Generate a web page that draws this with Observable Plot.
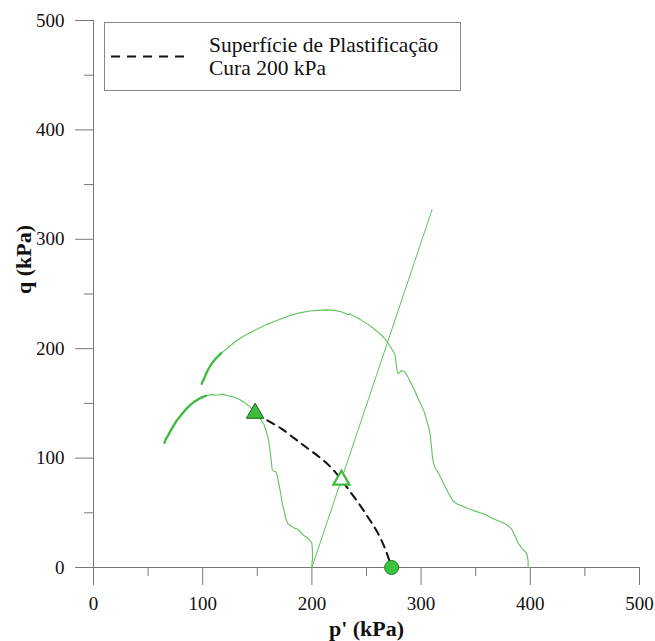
<!DOCTYPE html>
<html>
<head>
<meta charset="utf-8">
<script src="https://cdn.jsdelivr.net/npm/d3@7"></script>
<script src="https://cdn.jsdelivr.net/npm/@observablehq/plot@0.6"></script>
<style>
  body { margin: 0; background: #fff; }
  #wrap { position: relative; width: 655px; height: 641px; font-family: 'Liberation Serif', 'Times New Roman', serif; }
  #legend { position: absolute; left: 0; top: 0; }
</style>
</head>
<body>
<div id="wrap"></div>
<script>
// --- data ---
const xMajor = [0, 100, 200, 300, 400, 500];
const xMinor = [50, 150, 250, 350, 450];
const yMajor = [0, 100, 200, 300, 400, 500];
const yMinor = [50, 150, 250, 350, 450];
const xTitle = "p' (kPa)";
const yTitle = "q (kPa)";
const legendLines = ["Superfície de Plastificação", "Cura 200 kPa"];

// Lower effective stress path
const lowerP = [65,66,68,70,73,76,80,84,88,93,98,103,108,113,118,123,128,133,138,143,148,152,156,158,160,161,162,163,163.5,165,167,168,169,170,171,172,173,175,176,178,181,184,187,190,193,196,198,200,200.5,200.5,200,200];
const lowerQ = [114,117,120,124,129,134,139,144,148,152,155,157,158,157.5,158.5,157,156,154,151,147,141,137,131,125,118,112,104,96,90,88,87.5,85,80,75,70,64,58,50,45,40,38,36,35,32,29,27,25,22,15,8,3,0];
// thick initial part of lower path
const lowerStartP = [65,66,68,70,73,76,80,84,88,93,98,103];
const lowerStartQ = [114,117,120,124,129,134,139,144,148,152,155,157];

// Upper effective stress path
const upperP = [99,100,101,103,105,108,112,117,122,128,135,142,150,158,166,174,182,190,198,206,214,220,226,230,233,235,238,242,247,252,257,262,266,270,273,276,277,278,279,282,285,288,291,294,297,300,303,305,307,308.5,309.5,310.5,311.5,313,316,319,322,325,329,333,338,343,348,354,360,365,370,375,380,383,386,389,392,395,397,398,398];
const upperQ = [168,170,172,177,181,186,191,196,200,205,210,214,218,222,225,228,231,233,234.5,235,235.5,235,234,232.5,231,232,230,228,225,222,218,214,210,205,200,195,188,180,177,180,179,174,168,162,155,149,142,135,128,120,110,100,95,91,86,80,74,68,61,58,56,54,52,50,48,45,43,41,38,35,29,22,18,15,12,6,0];
const upperStartP = [99,100,101,103,105,108,112,117];
const upperStartQ = [168,170,172,177,181,186,191,196];

// Total stress path
const totalP = [200, 310];
const totalQ = [0, 327];

// Yield surface (Superfície de Plastificação - Cura 200 kPa)
const yieldP = [148,160,172,184,196,208,218,227,236,244,252,259,265,269,273];
const yieldQ = [141,134,127,118,109,100,91,80,68,57,45,34,22,12,0];

// Yield points
const yieldFilledTri = {p: 148, q: 141};
const yieldOpenTri = {p: 227, q: 80};
const yieldCircle = {p: 273, q: 0};

const zip = (P, Q) => P.map((p, i) => ({p, q: Q[i]}));

const green = "#5cc45c";
const greenDark = "#3fb83f";
const axisColor = "#777";

const chart = Plot.plot({
  width: 655,
  height: 641,
  marginLeft: 93,
  marginRight: 16,
  marginTop: 20,
  marginBottom: 74,
  x: {domain: [0, 500]},
  y: {domain: [0, 500]},
  style: {fontFamily: "'Liberation Serif', 'Times New Roman', serif", fontSize: "19px", color: "#111", background: "transparent"},
  marks: [
    Plot.ruleY([0], {stroke: axisColor}),
    Plot.ruleX([0], {stroke: axisColor}),
    Plot.axisX(xMajor, {tickSize: 18, tickPadding: 11, stroke: axisColor, label: null, fontSize: 19}),
    Plot.axisX(xMinor, {tickSize: 9, tickFormat: () => "", stroke: axisColor, label: null}),
    Plot.axisY(yMajor, {tickSize: 18, tickPadding: 11, stroke: axisColor, label: null, fontSize: 19}),
    Plot.axisY(yMinor, {tickSize: 9, tickFormat: () => "", stroke: axisColor, label: null}),
    Plot.text([xTitle], {frameAnchor: "bottom", dy: 61, fontWeight: "bold", fontSize: 22, lineAnchor: "middle"}),
    Plot.text([yTitle], {frameAnchor: "left", dx: -70, rotate: -90, fontWeight: "bold", fontSize: 22}),
    Plot.line(zip(totalP, totalQ), {x: "p", y: "q", stroke: green, strokeWidth: 1}),
    Plot.line(zip(lowerP, lowerQ), {x: "p", y: "q", stroke: green, strokeWidth: 1.1}),
    Plot.line(zip(lowerStartP, lowerStartQ), {x: "p", y: "q", stroke: greenDark, strokeWidth: 2.3}),
    Plot.line(zip(upperP, upperQ), {x: "p", y: "q", stroke: green, strokeWidth: 1.1}),
    Plot.line(zip(upperStartP, upperStartQ), {x: "p", y: "q", stroke: greenDark, strokeWidth: 2.3}),
    Plot.line(zip(yieldP, yieldQ), {x: "p", y: "q", stroke: "#111", strokeWidth: 2, strokeDasharray: "8,6", curve: "catmull-rom"}),
    Plot.dot([yieldFilledTri], {x: "p", y: "q", symbol: "triangle", r: 6.5, fill: "#3cbd3c", stroke: "#1f5f1f", strokeWidth: 1}),
    Plot.dot([yieldOpenTri], {x: "p", y: "q", symbol: "triangle", r: 6, fill: "#fff", stroke: "#3cbd3c", strokeWidth: 2.2}),
    Plot.dot([yieldCircle], {x: "p", y: "q", symbol: "circle", r: 7, fill: "#3cc43c", stroke: "#237a23", strokeWidth: 1})
  ]
});

const wrap = document.getElementById("wrap");
wrap.appendChild(chart);

// Legend (box drawn over the plot area, upper left)
const legend = d3.create("svg")
  .attr("id", "legend")
  .attr("width", 655).attr("height", 100)
  .style("pointer-events", "none");
legend.append("rect")
  .attr("x", 104.5).attr("y", 22.5).attr("width", 356).attr("height", 68)
  .attr("fill", "#fff").attr("stroke", "#888").attr("stroke-width", 1);
legend.append("line")
  .attr("x1", 111).attr("x2", 191).attr("y1", 56.5).attr("y2", 56.5)
  .attr("stroke", "#111").attr("stroke-width", 1.8).attr("stroke-dasharray", "9,7");
legend.selectAll("text.l").data(legendLines).join("text")
  .attr("class", "l")
  .attr("x", 209)
  .attr("y", (d, i) => 52 + i * 23)
  .attr("fill", "#111")
  .style("font-family", "'Liberation Serif', 'Times New Roman', serif")
  .style("font-size", "21.5px")
  .text(d => d);
wrap.appendChild(legend.node());
</script>
</body>
</html>
